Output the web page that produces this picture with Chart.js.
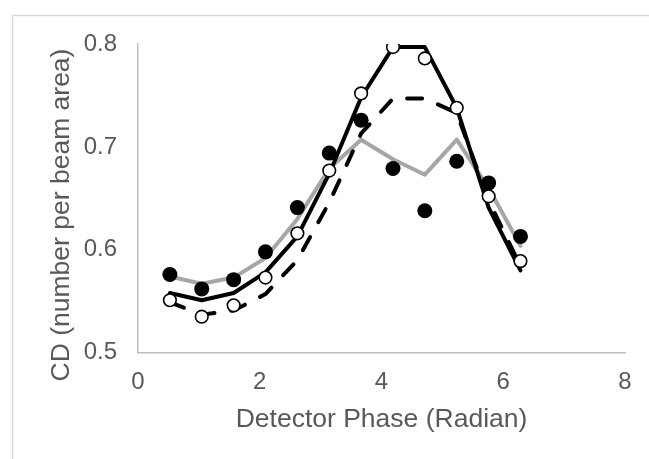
<!DOCTYPE html>
<html>
<head>
<meta charset="utf-8">
<script src="https://cdn.jsdelivr.net/npm/chart.js@4/dist/chart.umd.min.js"></script>
<style>
  html, body { margin: 0; padding: 0; background: #fff; }
  #wrap { width: 649px; height: 459px; }
</style>
</head>
<body>
<div id="wrap"><canvas id="cd" width="649" height="459"></canvas></div>
<script>
// detector phase, radians (pi/6 steps)
var phase = [0.524, 1.047, 1.571, 2.094, 2.618, 3.142, 3.665, 4.189, 4.712, 5.236, 5.760, 6.283];

// measured CD, two runs
var measFilled = [0.576, 0.562, 0.571, 0.598, 0.641, 0.694, 0.726, 0.679, 0.638, 0.686, 0.665, 0.613];
var measOpen   = [0.551, 0.535, 0.546, 0.573, 0.616, 0.677, 0.752, 0.797, 0.786, 0.738, 0.652, 0.589];

// model curves
var modelGray   = [0.574, 0.567, 0.573, 0.592, 0.630, 0.679, 0.707, 0.688, 0.673, 0.707, 0.660, 0.604];
var modelSolid  = [0.558, 0.551, 0.558, 0.578, 0.613, 0.674, 0.748, 0.797, 0.797, 0.738, 0.641, 0.580];
var modelDashed = [0.549, 0.537, 0.541, 0.557, 0.590, 0.646, 0.713, 0.747, 0.747, 0.733, 0.648, 0.584];

var xTicks = [0, 2, 4, 6, 8];
var yTicks = [0.5, 0.6, 0.7, 0.8];

var yTitle = 'CD (number per beam area)';
var xTitle = 'Detector Phase (Radian)';

function pts(ys) {
  return phase.map(function(x, i) { return { x: x, y: ys[i] }; });
}

var textGray = '#595959';
var fontFamily = 'Liberation Sans, Arial, sans-serif';

// light frame round the chart area, plus the rotated y title
// (drawn by hand so it can sit a bit lower than the scale centre)
var framePlugin = {
  id: 'frame',
  beforeDraw: function(chart) {
    var ctx = chart.ctx;
    ctx.save();
    ctx.strokeStyle = '#d9d9d9';
    ctx.lineWidth = 1.5;
    ctx.strokeRect(12.5, 15.5, 700, 500);
    ctx.restore();
  },
  afterDraw: function(chart) {
    var ctx = chart.ctx;
    ctx.save();
    ctx.translate(62, 215);
    ctx.rotate(-Math.PI / 2);
    ctx.font = '26.5px ' + fontFamily;
    ctx.fillStyle = textGray;
    ctx.textAlign = 'center';
    ctx.textBaseline = 'middle';
    ctx.fillText(yTitle, 0, 0);
    ctx.restore();
  }
};

new Chart(document.getElementById('cd'), {
  type: 'scatter',
  data: {
    datasets: [{
      label: 'open',
      data: pts(measOpen),
      pointRadius: 6.3,
      pointHoverRadius: 6.3,
      pointBackgroundColor: '#ffffff',
      pointBorderColor: '#000000',
      pointBorderWidth: 1.6
    }, {
      label: 'filled',
      data: pts(measFilled),
      pointRadius: 7.5,
      pointHoverRadius: 7.5,
      pointBackgroundColor: '#000000',
      pointBorderWidth: 0
    }, {
      label: 'solid',
      data: pts(modelSolid),
      showLine: true,
      pointRadius: 0,
      borderColor: '#000000',
      borderWidth: 4,
      borderCapStyle: 'round',
      borderJoinStyle: 'round'
    }, {
      label: 'dashed',
      data: pts(modelDashed),
      showLine: true,
      pointRadius: 0,
      borderColor: '#000000',
      borderWidth: 4,
      borderDash: [15, 17],
      borderCapStyle: 'round',
      borderJoinStyle: 'round'
    }, {
      label: 'gray',
      data: pts(modelGray),
      showLine: true,
      pointRadius: 0,
      borderColor: '#a6a6a6',
      borderWidth: 4,
      borderCapStyle: 'round',
      borderJoinStyle: 'round'
    }]
  },
  plugins: [framePlugin],
  options: {
    responsive: false,
    animation: false,
    layout: { padding: { top: 44, right: 24, left: 0, bottom: 0 } },
    plugins: {
      legend: { display: false },
      tooltip: { enabled: false }
    },
    scales: {
      x: {
        type: 'linear',
        min: 0,
        max: 8,
        afterFit: function(scale) { scale.height = 106.3; },
        afterBuildTicks: function(scale) {
          scale.ticks = xTicks.map(function(v) { return { value: v }; });
        },
        grid: { display: false, drawTicks: false },
        border: { display: true, color: '#bfbfbf', width: 1.5 },
        ticks: {
          padding: 15,
          color: textGray,
          font: { family: fontFamily, size: 24 },
          callback: function(v) { return String(v); }
        },
        title: {
          display: true,
          text: xTitle,
          color: textGray,
          font: { family: fontFamily, size: 26.5 },
          padding: { top: 0, bottom: 23 }
        }
      },
      y: {
        type: 'linear',
        min: 0.5,
        max: 0.8,
        afterFit: function(scale) { scale.width = 138; },
        afterBuildTicks: function(scale) {
          scale.ticks = yTicks.map(function(v) { return { value: v }; });
        },
        grid: { display: false, drawTicks: false },
        border: { display: true, color: '#bfbfbf', width: 1.5 },
        ticks: {
          padding: 21,
          color: textGray,
          font: { family: fontFamily, size: 24 },
          callback: function(v) { return Number(v).toFixed(1); }
        },
        title: { display: false }
      }
    }
  }
});
</script>
</body>
</html>
